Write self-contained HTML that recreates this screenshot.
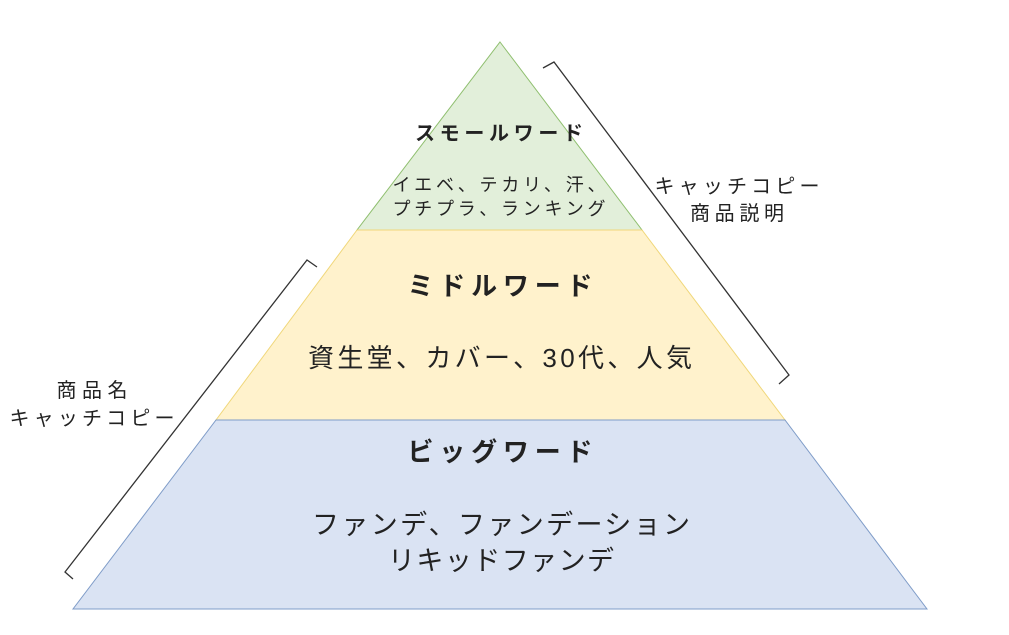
<!DOCTYPE html>
<html><head><meta charset="utf-8"><style>
body{margin:0;background:#fff;width:1009px;height:630px;overflow:hidden}
text{font-family:"Liberation Sans","Noto Sans CJK JP",sans-serif;fill:#222}
</style></head><body>
<svg width="1009" height="630" viewBox="0 0 1009 630">
<polygon points="500,42 642,230 357,230" fill="#e2efda" stroke="#8fbf6f" stroke-width="1"/>
<polygon points="357,230 642,230 785,420 216,420" fill="#fff2cc" stroke="#f0d77a" stroke-width="1"/>
<polygon points="216,420 785,420 927,609 73,609" fill="#dae3f3" stroke="#7f9cc8" stroke-width="1"/>
<polyline points="543,68 554,62 789,375 779,384" fill="none" stroke="#333" stroke-width="1.3"/>
<polyline points="317,267 307,260 65,572 73,579" fill="none" stroke="#333" stroke-width="1.3"/>
<g text-anchor="middle" lengthAdjust="spacing">
<text x="499" y="140" font-size="20" font-weight="bold" fill="#000" textLength="168" lengthAdjust="spacing">スモールワード</text>
<text x="499" y="191" font-size="18" textLength="213" lengthAdjust="spacing">イエベ、テカリ、汗、</text>
<text x="499" y="215" font-size="18" textLength="213" lengthAdjust="spacing">プチプラ、ランキング</text>
<text x="500" y="295" font-size="26" font-weight="bold" fill="#000" textLength="185" lengthAdjust="spacing">ミドルワード</text>
<text x="500" y="367" font-size="26" textLength="384" lengthAdjust="spacing">資生堂、カバー、30代、人気</text>
<text x="500" y="461" font-size="26" font-weight="bold" fill="#000" textLength="185" lengthAdjust="spacing">ビッグワード</text>
<text x="501" y="534" font-size="27" textLength="378" lengthAdjust="spacing">ファンデ、ファンデーション</text>
<text x="501" y="570" font-size="27" textLength="226" lengthAdjust="spacing">リキッドファンデ</text>
<text x="737" y="193" font-size="20" textLength="165" lengthAdjust="spacing">キャッチコピー</text>
<text x="737" y="220" font-size="20" textLength="94" lengthAdjust="spacing">商品説明</text>
<text x="92" y="397" font-size="20" textLength="71" lengthAdjust="spacing">商品名</text>
<text x="92" y="425" font-size="20" textLength="165" lengthAdjust="spacing">キャッチコピー</text>
</g>
</svg>
</body></html>
